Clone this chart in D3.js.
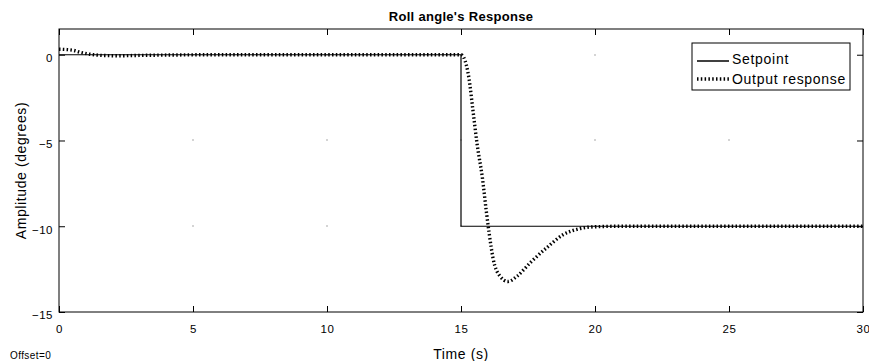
<!DOCTYPE html>
<html>
<head>
<meta charset="utf-8">
<script src="https://cdn.jsdelivr.net/npm/d3@7"></script>
<style>
  body { margin: 0; background: #fff; }
  svg text { font-family: "Liberation Sans", Arial, sans-serif; fill: #000; }
</style>
</head>
<body>
<div class="chart"></div>
<script>
// setpoint (step at t = 15 s)
var setTime = [0, 15, 15, 30];
var setValue = [0, 0, -10, -10];

// output response
var outTime = [0, 0.3, 0.55, 0.8, 1.15, 1.6, 2.2, 3.0, 4.0, 6, 15, 15.1, 15.3, 15.45, 15.6, 15.8, 15.95, 16.05, 16.2, 16.45, 16.75, 17.1, 17.6, 18.2, 18.8, 19.4, 20, 21, 30];
var outValue = [0.32, 0.3, 0.25, 0.14, 0.03, -0.04, -0.06, -0.04, -0.02, 0, 0, -0.15, -1.4, -3.3, -5.2, -7.2, -9.2, -10.4, -11.9, -12.9, -13.22, -12.9, -12.1, -11.25, -10.5, -10.15, -10.03, -10, -10];

var xTicks = [0, 5, 10, 15, 20, 25, 30];
var yTicks = [0, -5, -10, -15];

var width = 869, height = 361;
var plotL = 59, plotR = 863, plotT = 29, plotB = 312;

var svg = d3.select(".chart").append("svg")
    .attr("width", width)
    .attr("height", height);

var x = d3.scaleLinear().domain([0, 30]).range([plotL, plotR]);
var y = d3.scaleLinear().domain([-15, 1.5]).range([plotB, plotT]);

// grid dots at tick crossings
var crossings = [];
xTicks.forEach(function (tx) {
  yTicks.forEach(function (ty) {
    crossings.push([tx, ty]);
  });
});
svg.append("g").selectAll("rect")
    .data(crossings.filter(function (d) { return d[0] > 0 && d[0] < 30 && d[1] > -15; }))
    .enter()
        .append("rect")
        .attr("x", function (d) { return Math.round(x(d[0])) - 0.5; })
        .attr("y", function (d) { return Math.round(y(d[1])) - 0.5; })
        .attr("width", 1)
        .attr("height", 1)
        .attr("fill", "#555");

// axes with inward ticks
function styleAxis(g) {
  g.select(".domain").remove();
  g.selectAll("line").attr("stroke", "#000");
  g.selectAll("text").attr("font-size", "11.5px").attr("letter-spacing", "0.5px");
}

svg.append("g")
    .attr("transform", "translate(0," + plotB + ")")
    .call(d3.axisBottom(x).tickValues(xTicks).tickSizeInner(-6).tickSizeOuter(0).tickPadding(12.5))
    .call(styleAxis);
svg.append("g")
    .attr("transform", "translate(0," + plotT + ")")
    .call(d3.axisTop(x).tickValues(xTicks).tickSizeInner(-6).tickSizeOuter(0).tickFormat(""))
    .call(styleAxis);
svg.append("g")
    .attr("transform", "translate(" + plotL + ",0)")
    .call(d3.axisLeft(y).tickValues(yTicks).tickSizeInner(-6).tickSizeOuter(0).tickPadding(6))
    .call(styleAxis)
    .selectAll("text").attr("dy", "0.6em");
svg.append("g")
    .attr("transform", "translate(" + plotR + ",0)")
    .call(d3.axisRight(y).tickValues(yTicks).tickSizeInner(-6).tickSizeOuter(0).tickFormat(""))
    .call(styleAxis);

// lines
var setLine = d3.line()
    .x(function (d, i) { return x(setTime[i]); })
    .y(function (d) { return y(d); });
var outLine = d3.line()
    .x(function (d, i) { return x(outTime[i]); })
    .y(function (d) { return y(d); })
    .curve(d3.curveMonotoneX);

svg.append("path")
    .attr("d", setLine(setValue))
    .attr("fill", "none")
    .attr("stroke", "#000")
    .attr("stroke-width", 1.2);
svg.append("path")
    .attr("d", outLine(outValue))
    .attr("fill", "none")
    .attr("stroke", "#000")
    .attr("stroke-width", 3.4)
    .attr("stroke-dasharray", "1.5,2.3");

// frame
svg.append("rect")
    .attr("x", plotL)
    .attr("y", plotT)
    .attr("width", plotR - plotL)
    .attr("height", plotB - plotT)
    .attr("fill", "none")
    .attr("stroke", "#000")
    .attr("stroke-width", 1);

// legend
var lg = svg.append("g");
lg.append("rect")
    .attr("x", 692).attr("y", 43)
    .attr("width", 158).attr("height", 47)
    .attr("fill", "#fff").attr("stroke", "#000");
lg.append("line")
    .attr("x1", 697).attr("x2", 729).attr("y1", 61).attr("y2", 61)
    .attr("stroke", "#000").attr("stroke-width", 1.5);
lg.append("line")
    .attr("x1", 697).attr("x2", 729).attr("y1", 79).attr("y2", 79)
    .attr("stroke", "#000").attr("stroke-width", 3.4)
    .attr("stroke-dasharray", "1.5,2.3");
lg.append("text").attr("x", 732).attr("y", 63.5).attr("font-size", "14px")
    .attr("letter-spacing", "0.7px").text("Setpoint");
lg.append("text").attr("x", 732).attr("y", 83.5).attr("font-size", "14px")
    .attr("letter-spacing", "0.7px").text("Output response");

// titles
svg.append("text")
    .attr("x", (plotL + plotR) / 2).attr("y", 21)
    .attr("text-anchor", "middle")
    .attr("font-size", "13px").attr("font-weight", "bold")
    .attr("letter-spacing", "0.3px")
    .text("Roll angle's Response");
svg.append("text")
    .attr("x", (plotL + plotR) / 2).attr("y", 359)
    .attr("text-anchor", "middle")
    .attr("font-size", "14px").attr("letter-spacing", "0.6px")
    .text("Time (s)");
svg.append("text")
    .attr("transform", "translate(26," + ((plotT + plotB) / 2) + ") rotate(-90)")
    .attr("text-anchor", "middle")
    .attr("font-size", "14px").attr("letter-spacing", "0.6px")
    .text("Amplitude (degrees)");
svg.append("text")
    .attr("x", 10).attr("y", 358.5)
    .attr("font-size", "10px").attr("letter-spacing", "0.4px")
    .text("Offset=0");
</script>
</body>
</html>
